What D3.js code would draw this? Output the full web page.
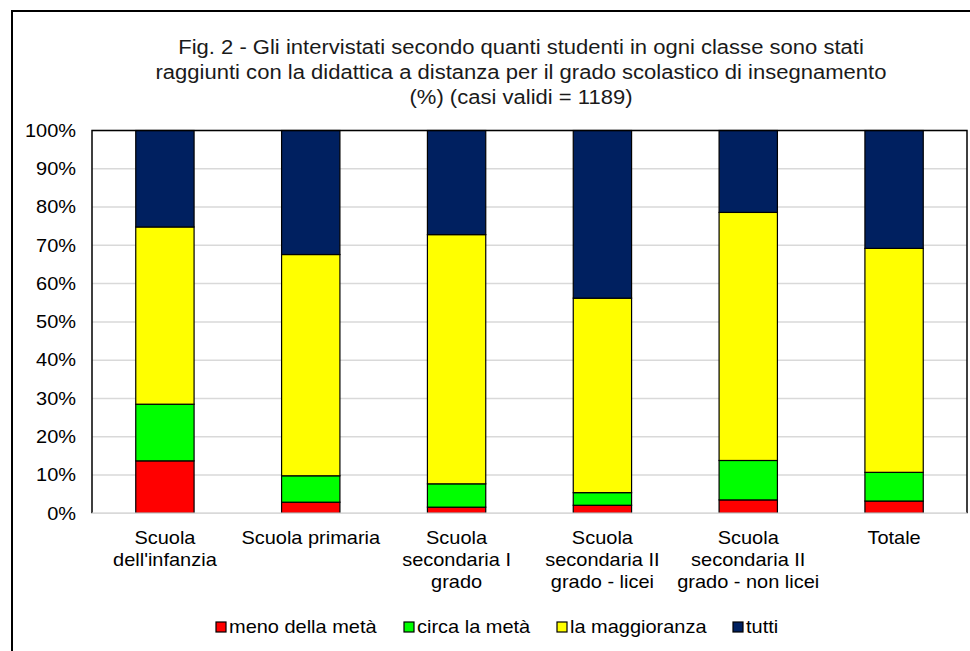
<!DOCTYPE html>
<html><head><meta charset="utf-8">
<script src="https://cdn.jsdelivr.net/npm/d3@7"></script>
<style>body{margin:0;background:#fff}svg{display:block;font-family:"Liberation Sans",Arial,sans-serif}</style>
</head><body>
<svg id="c" width="970" height="651"></svg>
<script>
const categories = [["Scuola","dell'infanzia"],["Scuola primaria"],["Scuola","secondaria I","grado"],["Scuola","secondaria II","grado - licei"],["Scuola","secondaria II","grado - non licei"],["Totale"]];
const seriesNames = ["meno della metà","circa la metà","la maggioranza","tutti"];
const colors = ["#ff0000","#00ff00","#ffff00","#002060"];
const meno = [13.7, 2.9, 1.6, 2.1, 3.5, 3.2];
const circa = [14.8, 6.9, 6.1, 3.3, 10.3, 7.5];
const maggioranza = [46.3, 57.8, 65.1, 50.8, 64.8, 58.5];
const tutti = [25.2, 32.4, 27.2, 43.8, 21.4, 30.8];
const yTicks = [0,10,20,30,40,50,60,70,80,90,100];
const titleLines = ["Fig. 2 - Gli intervistati secondo quanti studenti in ogni classe sono stati","raggiunti con la didattica a distanza per il grado scolastico di insegnamento","(%) (casi validi = 1189)"];

const svg = d3.select("#c");
svg.append("rect").attr("x",12).attr("y",11).attr("width",975).attr("height",660).attr("fill","#fff").attr("stroke","#000").attr("stroke-width",2);

const L=92, R=967, T=130.5, B=513.3;
const SX = 1.11;
const x = d3.scaleBand().domain(d3.range(categories.length)).range([L,R]).paddingInner(0.6).paddingOuter(0.3);
const y = d3.scaleLinear().domain([0,100]).range([B,T]);

function stretched(parent, ax){
  return parent.append("g").attr("transform",`translate(${ax},0) scale(${SX},1) translate(${-ax},0)`);
}

// gridlines
svg.append("g").selectAll("line").data(yTicks).join("line")
  .attr("x1",L).attr("x2",R).attr("y1",d=>y(d)).attr("y2",d=>y(d))
  .attr("stroke","#d9d9d9").attr("stroke-width",1.5);

// y axis labels
const yAxis = d3.axisLeft(y).tickValues(yTicks).tickFormat(d=>d+"%").tickSize(0).tickPadding(0);
const ga = stretched(svg, 76).append("g").attr("transform",`translate(76,0)`).call(yAxis);
ga.select(".domain").remove();
ga.selectAll("text").attr("font-size",18).attr("fill","#000").attr("font-family","Liberation Sans, Arial, sans-serif");

// stacked bars
const table = categories.map((c,i)=>({i, s0:meno[i], s1:circa[i], s2:maggioranza[i], s3:tutti[i]}));
const stack = d3.stack().keys(["s0","s1","s2","s3"])(table);
svg.append("g").selectAll("g").data(stack).join("g").attr("fill",(d,k)=>colors[k])
  .selectAll("rect").data(d=>d).join("rect")
  .attr("x",d=>x(d.data.i)).attr("width",x.bandwidth())
  .attr("y",d=>y(Math.min(d[1],100))).attr("height",d=>y(d[0])-y(Math.min(d[1],100)))
  .attr("stroke","#000").attr("stroke-width",1.2);

// plot border
svg.append("path").attr("d",`M${L},${B}V${T}H${R}V${B}`).attr("fill","none").attr("stroke","#000").attr("stroke-width",1.5);
svg.append("line").attr("x1",L).attr("x2",R).attr("y1",B).attr("y2",B).attr("stroke","#d9d9d9").attr("stroke-width",1.5);

// category labels
categories.forEach((lines,i)=>{
  const cx = x(i)+x.bandwidth()/2;
  const t = stretched(svg, cx).append("text").attr("x",cx).attr("y",544).attr("text-anchor","middle").attr("font-size",18).attr("fill","#000");
  lines.forEach((ln,j)=>t.append("tspan").attr("x",cx).attr("dy",j?22:0).text(ln));
});

// title
const tt = svg.append("g").attr("transform",`translate(521,0) scale(1.13,1) translate(-521,0)`)
  .append("text").attr("text-anchor","middle").attr("font-size",19.5).attr("fill","#1a1a1a");
titleLines.forEach((ln,j)=>tt.append("tspan").attr("x",521).attr("y",54+j*25).text(ln));

// legend
const legX = [216, 404, 557, 733];
seriesNames.forEach((n,k)=>{
  svg.append("rect").attr("x",legX[k]).attr("y",622).attr("width",10).attr("height",10).attr("fill",colors[k]).attr("stroke","#000").attr("stroke-width",1.2);
  stretched(svg, legX[k]+13).append("text").attr("x",legX[k]+13).attr("y",633.5).attr("font-size",18).attr("fill","#000").text(n);
});
</script>
</body></html>
